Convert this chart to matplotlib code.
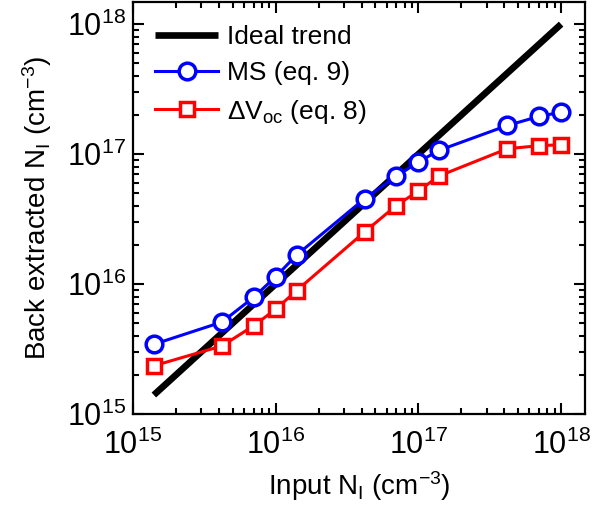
import matplotlib
matplotlib.use("Agg")
import matplotlib.pyplot as plt
from matplotlib.ticker import LogLocator, NullFormatter

plt.rcParams['font.family'] = ['Liberation Sans', 'DejaVu Sans']
plt.rcParams['mathtext.fontset'] = 'custom'
plt.rcParams['mathtext.rm'] = 'Liberation Sans'
plt.rcParams['mathtext.it'] = 'Liberation Sans'

# Data
input_ni = [1.4e15, 4.2e15, 7e15, 1e16, 1.4e16, 4.2e16, 7e16, 1e17, 1.4e17, 4.2e17, 7e17, 1e18]
ms_ni = [3.44e15, 5.1e15, 7.9e15, 1.14e16, 1.67e16, 4.54e16, 6.74e16, 8.7e16, 1.07e17, 1.66e17, 1.95e17, 2.1e17]
dvoc_ni = [2.35e15, 3.34e15, 4.77e15, 6.4e15, 8.9e15, 2.52e16, 4.02e16, 5.2e16, 6.8e16, 1.1e17, 1.16e17, 1.18e17]
ideal_x = [1.4e15, 1e18]
ideal_y = [1.4e15, 1e18]
tick_vals = [1e15, 1e16, 1e17, 1e18]
tick_labels = [r'$\mathregular{10^{15}}$', r'$\mathregular{10^{16}}$',
               r'$\mathregular{10^{17}}$', r'$\mathregular{10^{18}}$']

fig = plt.figure(figsize=(6.02, 5.15), dpi=100)
ax = fig.add_axes([133/602, 1-414/515, 452/602, 412/515])

ax.plot(ideal_x, ideal_y, color='black', lw=4.8, solid_capstyle='butt', label='Ideal trend')
ax.plot(input_ni, ms_ni, color=(0, 0, 1), lw=2.2, marker='o', ms=12, mfc='white',
        mec=(0, 0, 1), mew=2.5, label='MS (eq. 9)')
ax.plot(input_ni, dvoc_ni, color=(1, 0, 0), lw=2.2, marker='s', ms=10, mfc='white',
        mec=(1, 0, 0), mew=2.5, label='ΔV$_\\mathregular{oc}$ (eq. 8)')

ax.set_xscale('log')
ax.set_yscale('log')
ax.set_xlim(1e15, 1.47e18)
ax.set_ylim(1e15, 1.48e18)

ax.set_xticks(tick_vals)
ax.set_xticklabels(tick_labels)
ax.set_yticks(tick_vals)
ax.set_yticklabels(tick_labels)
for a in (ax.xaxis, ax.yaxis):
    a.set_minor_locator(LogLocator(base=10, subs=range(2, 10), numticks=20))
    a.set_minor_formatter(NullFormatter())

ax.tick_params(which='both', direction='in', top=True, right=True, width=1.5)
ax.tick_params(which='major', length=8, labelsize=22)
ax.tick_params(which='minor', length=4.5)
ax.tick_params(axis='x', which='major', pad=11)
ax.tick_params(axis='y', which='major', pad=5)
for s in ax.spines.values():
    s.set_linewidth(1.6)

ax.set_xlabel(r'Input N$_\mathregular{I}$ (cm$^\mathregular{-3}$)', fontsize=20, labelpad=6)
ax.set_ylabel(r'Back extracted N$_\mathregular{I}$ (cm$^\mathregular{-3}$)', fontsize=20, labelpad=9)

leg = ax.legend(loc='upper left', frameon=False, fontsize=19, handlelength=2.4,
                handletextpad=0.35, labelspacing=0.47, borderaxespad=0.0,
                bbox_to_anchor=(0.025, 0.97))

fig.savefig('out.png', dpi=100)
